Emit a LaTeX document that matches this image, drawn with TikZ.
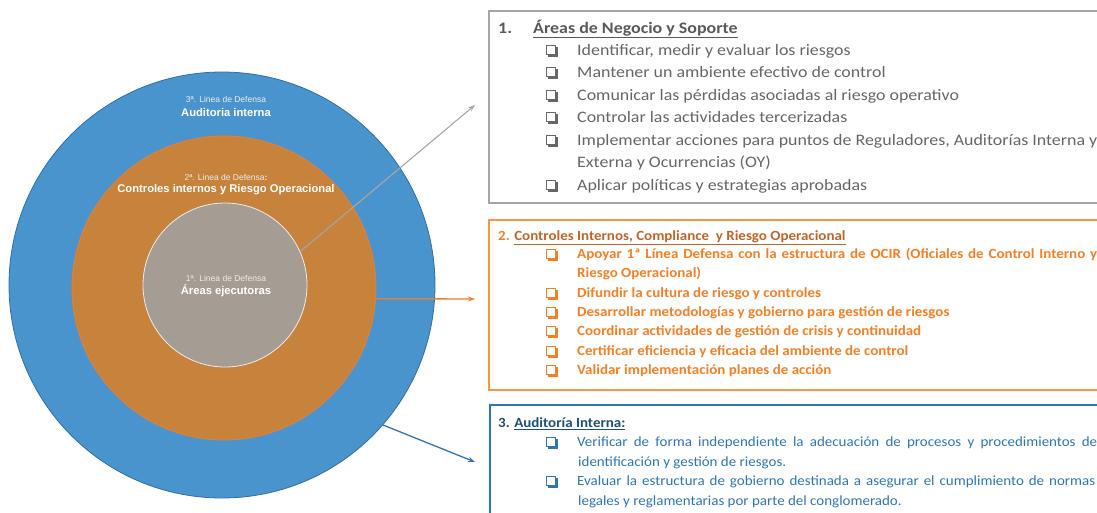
\documentclass[tikz,border=0pt]{standalone}
\usepackage{fontspec}
\setmainfont{Carlito}
\newfontfamily\widefont{Carlito}[FakeStretch=1.12]
\newfontfamily\narrowfont{Carlito}[FakeStretch=1.07]
\newfontfamily\ringfont{Liberation Sans}
\usetikzlibrary{arrows.meta}

\definecolor{ringblue}{HTML}{4A94CE}
\definecolor{ringblueedge}{HTML}{2F6EA8}
\definecolor{ringorange}{HTML}{C7823B}
\definecolor{ringorangeedge}{HTML}{ED7D31}
\definecolor{ringgray}{HTML}{A59D94}
\definecolor{boxgray}{HTML}{A6A6A6}
\definecolor{txtgray}{HTML}{666666}
\definecolor{titlegray}{HTML}{595959}
\definecolor{boxorange}{HTML}{F79646}
\definecolor{txtorange}{HTML}{F47F24}
\definecolor{titleorange}{HTML}{C0652A}
\definecolor{boxblue}{HTML}{2E75B6}
\definecolor{txtblue}{HTML}{2E75B6}
\definecolor{titleblue}{HTML}{1F4E79}

\newcommand{\dfitem}[5]{%
  % Checklist line: #1=name, #2=y-center, #3=text style, #4=bullet colour, #5=text
  \node[chkbox, draw=#4] (#1b) at (551,#2) {};
  \draw[#4, line width=1.5] ([xshift=2pt,yshift=-0.75pt]#1b.south west)
    -- ([xshift=0.75pt,yshift=-0.75pt]#1b.south east)
    -- ([xshift=0.75pt,yshift=-2pt]#1b.north east);
  \node[#3] (#1) at (577,#2) {#5};%
}

\tikzset{
  ringsmall/.style={font=\ringfont\fontsize{8.5}{9}\selectfont, text=white!85!gray, inner sep=0},
  ringbold/.style={font=\ringfont\bfseries\fontsize{11.2}{12}\selectfont, text=white, inner sep=0},
  chkbox/.style={minimum size=9pt, inner sep=0, line width=1},
  firstline/.style={anchor=base west, inner sep=0, yshift=-5.2pt,
    font=\widefont\fontsize{16}{18}\selectfont, text=txtgray},
  secondline/.style={anchor=base west, inner sep=0, yshift=-4.6pt,
    font=\narrowfont\bfseries\fontsize{14}{16}\selectfont, text=txtorange},
  thirdline/.style={anchor=base west, inner sep=0, yshift=-4.6pt,
    font=\narrowfont\fontsize{14}{16}\selectfont, text=txtblue},
}

\begin{document}
\begin{tikzpicture}[x=1pt, y=-1pt, >={Stealth[length=7pt, width=5pt]}]

\clip (0,0) rectangle (1097,512);

% ================================================================
% Defence rings (outer -> inner)
% ================================================================
\node[circle, inner sep=0, minimum size=426, fill=ringblue, draw=ringblueedge, line width=0.8]
  (outer) at (222,285) {};
\node[circle, inner sep=0, minimum size=304, fill=ringorange, draw=ringorangeedge, line width=0.8]
  (middle) at (224,288) {};
\node[circle, inner sep=0, minimum size=164, fill=ringgray, draw=white!85!gray, line width=0.8]
  (inner) at (225,285) {};

% ring labels
\node[ringsmall] (l3a) at (226,99) {3ª. Linea de Defensa};
\node[ringbold]  (l3b) at (226,112) {Auditoria interna};
\node[ringsmall] (l2a) at (226,177) {2ª. Linea de Defensa\textbf{:}};
\node[ringbold]  (l2b) at (226,190) {Controles internos y Riesgo Operacional};
\node[ringsmall] (l1a) at (226,278) {1ª. Linea de Defensa};
\node[ringbold]  (l1b) at (226,291) {Áreas ejecutoras};

% ================================================================
% Connectors to the boxes
% ================================================================
\coordinate (to1) at (475,105);
\coordinate (to2) at (475,299);
\coordinate (to3) at (475,462);
\draw[->, boxgray, line width=1.1] (inner.24) -- (to1);
\draw[->, ringorangeedge, line width=1.3] (middle.-4) -- (to2);
\draw[->, boxblue, line width=1.3] (outer.-41) -- (to3);

% ================================================================
% Box 1: Areas de Negocio y Soporte
% ================================================================
\draw[boxgray, line width=1.4] (489,11) rectangle (1110,203);
\node[firstline, font=\widefont\bfseries\fontsize{16}{18}\selectfont, text=titlegray] (t1n) at (498,28) {1.};
\node[firstline, font=\widefont\bfseries\fontsize{16}{18}\selectfont, text=titlegray] (t1) at (533,28)
  {\underline{Áreas de Negocio y Soporte}};
\dfitem{a1}{50}{firstline}{txtgray}{Identificar, medir y evaluar los riesgos}
\dfitem{a2}{72}{firstline}{txtgray}{Mantener un ambiente efectivo de control}
\dfitem{a3}{95}{firstline}{txtgray}{Comunicar las pérdidas asociadas al riesgo operativo}
\dfitem{a4}{117}{firstline}{txtgray}{Controlar las actividades tercerizadas}
\dfitem{a5}{140}{firstline}{txtgray}{Implementar acciones para puntos de Reguladores, Auditorías Interna y}
\node[firstline] (a5x) at (577,162) {Externa y Ocurrencias (OY)};
\dfitem{a6}{185}{firstline}{txtgray}{Aplicar políticas y estrategias aprobadas}

% ================================================================
% Box 2: Controles Internos, Compliance y Riesgo Operacional
% ================================================================
\draw[boxorange, line width=1.8] (489,220) rectangle (1110,390);
\node[secondline] (t2) at (498,236)
  {2. {\color{titleorange}\underline{Controles Internos, Compliance\ \ y Riesgo Operacional}}};
\dfitem{b1}{254}{secondline}{txtorange}{\makebox[520pt][s]{Apoyar 1ª Línea Defensa con la estructura de OCIR (Oficiales de Control Interno y}}
\node[secondline] (b1x) at (577,273) {Riesgo Operacional)};
\dfitem{b2}{293}{secondline}{txtorange}{Difundir la cultura de riesgo y controles}
\dfitem{b3}{312}{secondline}{txtorange}{Desarrollar metodologías y gobierno para gestión de riesgos}
\dfitem{b4}{331}{secondline}{txtorange}{Coordinar actividades de gestión de crisis y continuidad}
\dfitem{b5}{351}{secondline}{txtorange}{Certificar eficiencia y eficacia del ambiente de control}
\dfitem{b6}{370}{secondline}{txtorange}{Validar implementación planes de acción}

% ================================================================
% Box 3: Auditoria Interna
% ================================================================
\draw[boxblue, line width=1.8] (490,405) rectangle (1110,530);
\node[thirdline, font=\narrowfont\bfseries\fontsize{14}{16}\selectfont, text=titleblue] (t3) at (498,423)
  {3. \underline{Auditoría Interna:}};
\dfitem{c1}{442}{thirdline}{txtblue}{\makebox[520pt][s]{Verificar de forma independiente la adecuación de procesos y procedimientos de}}
\node[thirdline] (c1x) at (578,462) {identificación y gestión de riesgos.};
\dfitem{c2}{481}{thirdline}{txtblue}{\makebox[518pt][s]{Evaluar la estructura de gobierno destinada a asegurar el cumplimiento de normas}}
\node[thirdline] (c2x) at (578,501) {legales y reglamentarias por parte del conglomerado.};

\end{tikzpicture}
\end{document}
